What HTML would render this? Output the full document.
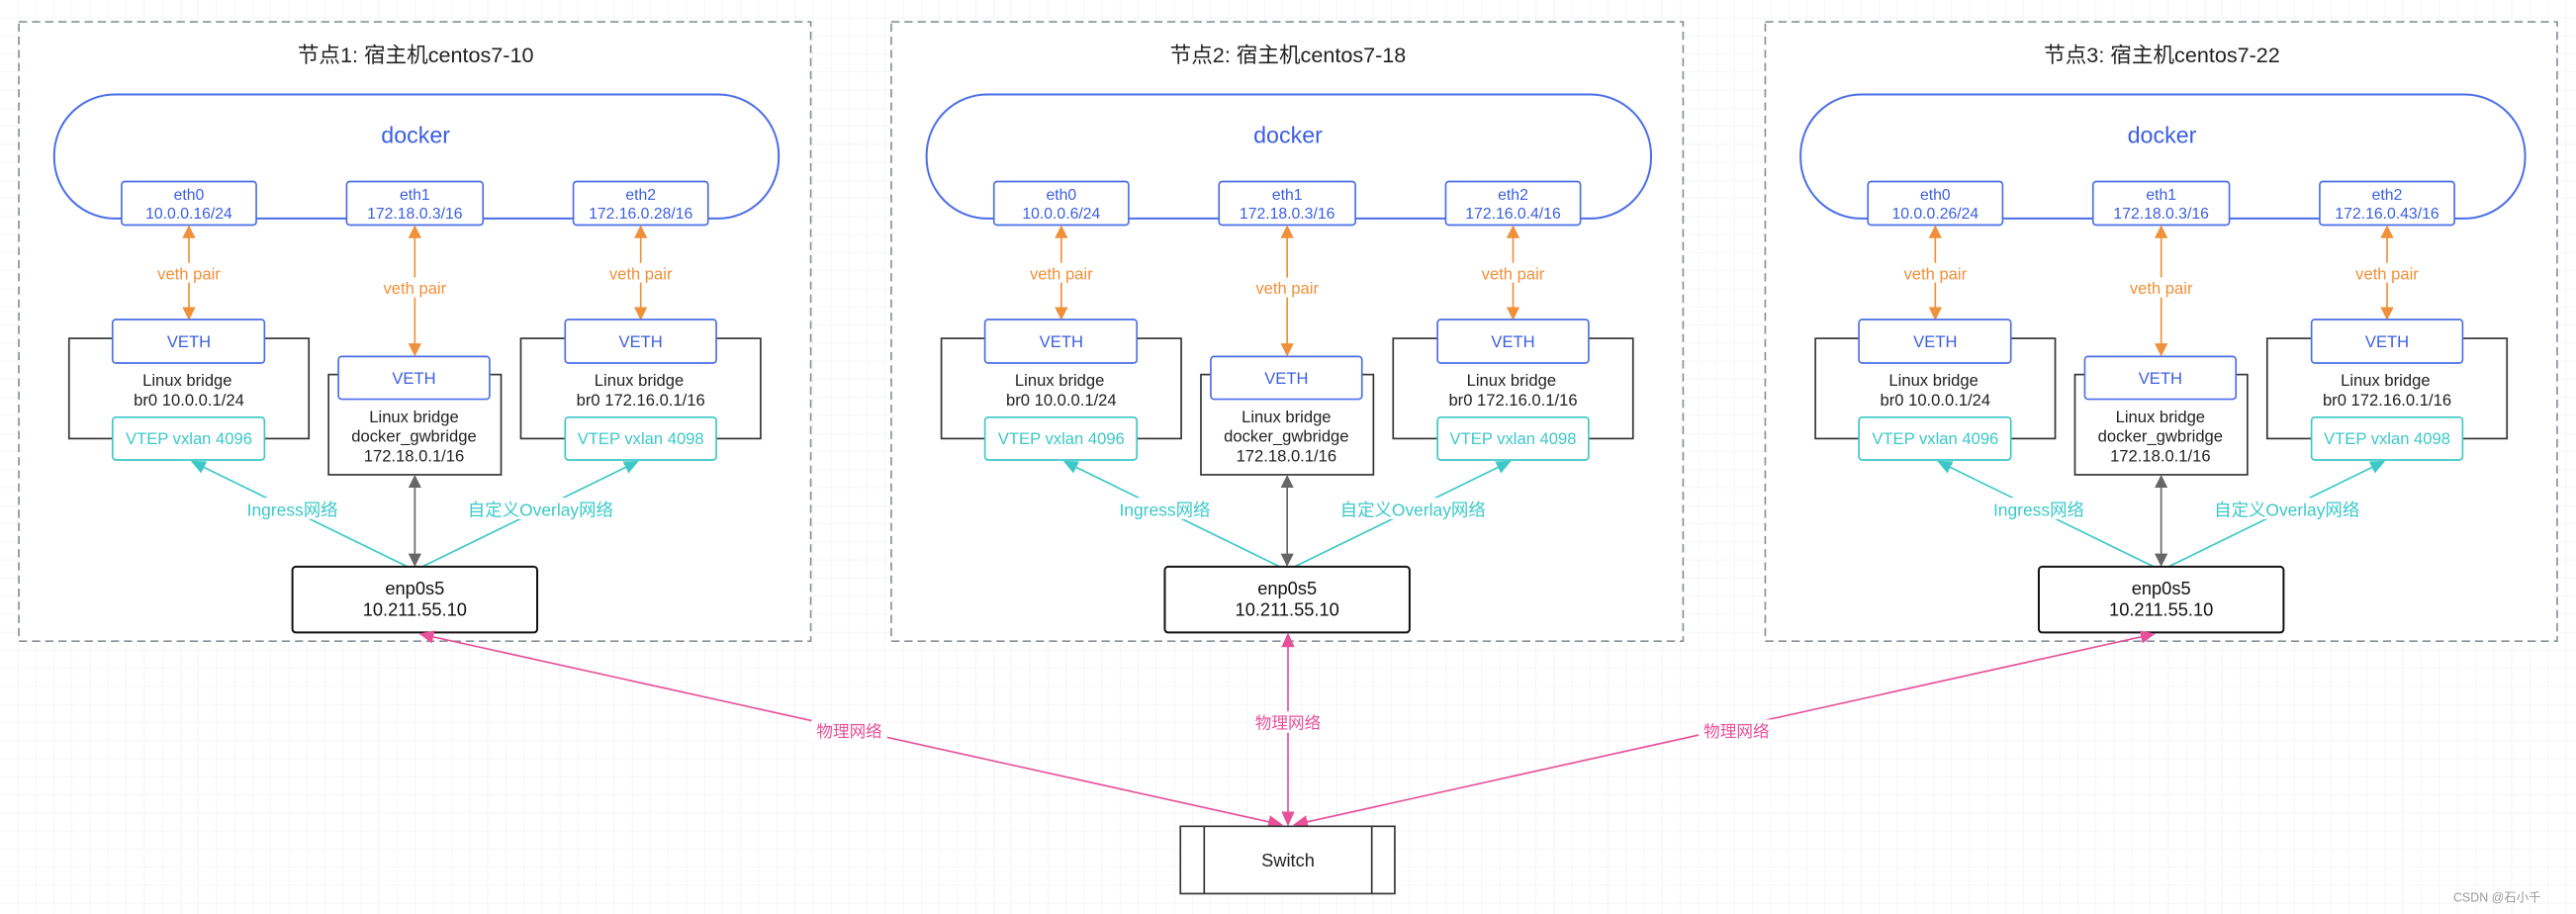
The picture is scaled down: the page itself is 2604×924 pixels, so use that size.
<!DOCTYPE html>
<html><head><meta charset="utf-8"><style>
html,body{margin:0;padding:0;background:#fff}
svg{display:block}
text{font-family:"Liberation Sans","Noto Sans CJK SC",sans-serif;text-anchor:middle}
</style></head><body>
<svg width="2604" height="924" viewBox="0 0 1568 556.4" preserveAspectRatio="none" xmlns="http://www.w3.org/2000/svg">
<defs>
<pattern id="g" width="11" height="11" patternUnits="userSpaceOnUse"><path d="M11 0V11M0 11H11" stroke="#eeeeee" stroke-width="0.6" fill="none"/></pattern>
<marker id="mo" markerWidth="8" markerHeight="8" refX="7" refY="4" orient="auto-start-reverse" markerUnits="userSpaceOnUse"><path d="M0,0L8,4L0,8z" fill="#f0903a"/></marker>
<marker id="mg" markerWidth="8" markerHeight="8" refX="7" refY="4" orient="auto-start-reverse" markerUnits="userSpaceOnUse"><path d="M0,0L8,4L0,8z" fill="#666"/></marker>
<marker id="mc" markerWidth="9" markerHeight="8" refX="8" refY="4" orient="auto" markerUnits="userSpaceOnUse"><path d="M0,0L9,4L0,8z" fill="#3cc8c8"/></marker>
<marker id="mp" markerWidth="9" markerHeight="8" refX="8" refY="4" orient="auto-start-reverse" markerUnits="userSpaceOnUse"><path d="M0,0L9,4L0,8z" fill="#e8509a"/></marker>
</defs>
<rect width="1568" height="556.4" fill="url(#g)"/>

<!-- NODE 1 -->
<g>
<rect x="11.5" y="13.3" width="482" height="377" fill="#fff" stroke="#8a909a" stroke-width="1" stroke-dasharray="5,3"/>
<text x="253" y="38" font-size="13" fill="#222">节点1: 宿主机centos7-10</text>
<path d="M70,57.5H437A37,37 0 0 1 474,94.5V96A37,37 0 0 1 437,133H70A37,37 0 0 1 33,96V94.5A37,37 0 0 1 70,57.5Z" fill="none" stroke="#4a6ee8" stroke-width="1.2"/>
<text x="253" y="87" font-size="14" fill="#3a5ee0">docker</text>
<g fill="#fff" stroke="#4a6ee8" stroke-width="1">
<rect x="74" y="110.5" width="82" height="26.5" rx="2"/><rect x="211" y="110.5" width="83" height="26.5" rx="2"/><rect x="349" y="110.5" width="82" height="26.5" rx="2"/></g>
<g font-size="9.5" fill="#3a5ee0"><text x="115" y="121.5">eth0</text><text x="115" y="133">10.0.0.16/24</text>
<text x="252.5" y="121.5">eth1</text><text x="252.5" y="133">172.18.0.3/16</text>
<text x="390" y="121.5">eth2</text><text x="390" y="133">172.16.0.28/16</text></g>
<g stroke="#f0903a" stroke-width="1" marker-start="url(#mo)" marker-end="url(#mo)" fill="none">
<path d="M115,138V194"/><path d="M252.5,138V216"/><path d="M390,138V194"/></g>
<g font-size="10" fill="#f0903a"><rect x="95" y="160" width="40" height="12" fill="#fff"/><text x="115" y="170">veth pair</text>
<rect x="232" y="169" width="41" height="12" fill="#fff"/><text x="252.5" y="179">veth pair</text>
<rect x="370" y="160" width="40" height="12" fill="#fff"/><text x="390" y="170">veth pair</text></g>
<g fill="#fff" stroke="#333" stroke-width="1"><rect x="42" y="206" width="146" height="61"/><rect x="200" y="228" width="105" height="61"/><rect x="317" y="206" width="146" height="61"/></g>
<g fill="#fff" stroke="#4a6ee8" stroke-width="1"><rect x="68.5" y="194.5" width="92.5" height="26.5" rx="2"/><rect x="206" y="217" width="92" height="26" rx="2"/><rect x="344" y="194.5" width="92" height="26.5" rx="2"/></g>
<g fill="#fff" stroke="#3cc8c8" stroke-width="1"><rect x="68.5" y="254" width="92.5" height="26" rx="2"/><rect x="344" y="254" width="92" height="26" rx="2"/></g>
<g font-size="10" fill="#3a5ee0"><text x="115" y="211.5">VETH</text><text x="252" y="233.5">VETH</text><text x="390" y="211.5">VETH</text></g>
<g font-size="10" fill="#3cc8c8"><text x="115" y="270.5">VTEP vxlan 4096</text><text x="390" y="270.5">VTEP vxlan 4098</text></g>
<g font-size="10" fill="#222"><text x="114" y="235">Linux bridge</text><text x="115" y="247">br0 10.0.0.1/24</text>
<text x="252" y="257">Linux bridge</text><text x="252" y="269">docker_gwbridge</text><text x="252" y="281">172.18.0.1/16</text>
<text x="389" y="235">Linux bridge</text><text x="390" y="247">br0 172.16.0.1/16</text></g>
<path d="M252.5,290V344" stroke="#666" stroke-width="1" marker-start="url(#mg)" marker-end="url(#mg)"/>
<g stroke="#3cc8c8" stroke-width="1" fill="none"><path d="M248,345L117,281" marker-end="url(#mc)" marker-start="url(#mc)"/><path d="M257,345L388,281" marker-end="url(#mc)" marker-start="url(#mc)"/></g>
<g font-size="10.5" fill="#3cc8c8"><rect x="148" y="303" width="60" height="13" fill="#fff"/><text x="178" y="314">Ingress网络</text>
<rect x="283" y="303" width="92" height="13" fill="#fff"/><text x="329" y="314">自定义Overlay网络</text></g>
<rect x="178" y="345" width="149" height="40" rx="2" fill="#fff" stroke="#111" stroke-width="1.2"/>
<g font-size="11" fill="#111"><text x="252.5" y="362">enp0s5</text><text x="252.5" y="375">10.211.55.10</text></g>
</g>

<!-- NODE 2 -->
<g transform="translate(531,0)">
<rect x="11.5" y="13.3" width="482" height="377" fill="#fff" stroke="#8a909a" stroke-width="1" stroke-dasharray="5,3"/>
<text x="253" y="38" font-size="13" fill="#222">节点2: 宿主机centos7-18</text>
<path d="M70,57.5H437A37,37 0 0 1 474,94.5V96A37,37 0 0 1 437,133H70A37,37 0 0 1 33,96V94.5A37,37 0 0 1 70,57.5Z" fill="none" stroke="#4a6ee8" stroke-width="1.2"/>
<text x="253" y="87" font-size="14" fill="#3a5ee0">docker</text>
<g fill="#fff" stroke="#4a6ee8" stroke-width="1">
<rect x="74" y="110.5" width="82" height="26.5" rx="2"/><rect x="211" y="110.5" width="83" height="26.5" rx="2"/><rect x="349" y="110.5" width="82" height="26.5" rx="2"/></g>
<g font-size="9.5" fill="#3a5ee0"><text x="115" y="121.5">eth0</text><text x="115" y="133">10.0.0.6/24</text>
<text x="252.5" y="121.5">eth1</text><text x="252.5" y="133">172.18.0.3/16</text>
<text x="390" y="121.5">eth2</text><text x="390" y="133">172.16.0.4/16</text></g>
<g stroke="#f0903a" stroke-width="1" marker-start="url(#mo)" marker-end="url(#mo)" fill="none">
<path d="M115,138V194"/><path d="M252.5,138V216"/><path d="M390,138V194"/></g>
<g font-size="10" fill="#f0903a"><rect x="95" y="160" width="40" height="12" fill="#fff"/><text x="115" y="170">veth pair</text>
<rect x="232" y="169" width="41" height="12" fill="#fff"/><text x="252.5" y="179">veth pair</text>
<rect x="370" y="160" width="40" height="12" fill="#fff"/><text x="390" y="170">veth pair</text></g>
<g fill="#fff" stroke="#333" stroke-width="1"><rect x="42" y="206" width="146" height="61"/><rect x="200" y="228" width="105" height="61"/><rect x="317" y="206" width="146" height="61"/></g>
<g fill="#fff" stroke="#4a6ee8" stroke-width="1"><rect x="68.5" y="194.5" width="92.5" height="26.5" rx="2"/><rect x="206" y="217" width="92" height="26" rx="2"/><rect x="344" y="194.5" width="92" height="26.5" rx="2"/></g>
<g fill="#fff" stroke="#3cc8c8" stroke-width="1"><rect x="68.5" y="254" width="92.5" height="26" rx="2"/><rect x="344" y="254" width="92" height="26" rx="2"/></g>
<g font-size="10" fill="#3a5ee0"><text x="115" y="211.5">VETH</text><text x="252" y="233.5">VETH</text><text x="390" y="211.5">VETH</text></g>
<g font-size="10" fill="#3cc8c8"><text x="115" y="270.5">VTEP vxlan 4096</text><text x="390" y="270.5">VTEP vxlan 4098</text></g>
<g font-size="10" fill="#222"><text x="114" y="235">Linux bridge</text><text x="115" y="247">br0 10.0.0.1/24</text>
<text x="252" y="257">Linux bridge</text><text x="252" y="269">docker_gwbridge</text><text x="252" y="281">172.18.0.1/16</text>
<text x="389" y="235">Linux bridge</text><text x="390" y="247">br0 172.16.0.1/16</text></g>
<path d="M252.5,290V344" stroke="#666" stroke-width="1" marker-start="url(#mg)" marker-end="url(#mg)"/>
<g stroke="#3cc8c8" stroke-width="1" fill="none"><path d="M248,345L117,281" marker-end="url(#mc)" marker-start="url(#mc)"/><path d="M257,345L388,281" marker-end="url(#mc)" marker-start="url(#mc)"/></g>
<g font-size="10.5" fill="#3cc8c8"><rect x="148" y="303" width="60" height="13" fill="#fff"/><text x="178" y="314">Ingress网络</text>
<rect x="283" y="303" width="92" height="13" fill="#fff"/><text x="329" y="314">自定义Overlay网络</text></g>
<rect x="178" y="345" width="149" height="40" rx="2" fill="#fff" stroke="#111" stroke-width="1.2"/>
<g font-size="11" fill="#111"><text x="252.5" y="362">enp0s5</text><text x="252.5" y="375">10.211.55.10</text></g>
</g>

<!-- NODE 3 -->
<g transform="translate(1063,0)">
<rect x="11.5" y="13.3" width="482" height="377" fill="#fff" stroke="#8a909a" stroke-width="1" stroke-dasharray="5,3"/>
<text x="253" y="38" font-size="13" fill="#222">节点3: 宿主机centos7-22</text>
<path d="M70,57.5H437A37,37 0 0 1 474,94.5V96A37,37 0 0 1 437,133H70A37,37 0 0 1 33,96V94.5A37,37 0 0 1 70,57.5Z" fill="none" stroke="#4a6ee8" stroke-width="1.2"/>
<text x="253" y="87" font-size="14" fill="#3a5ee0">docker</text>
<g fill="#fff" stroke="#4a6ee8" stroke-width="1">
<rect x="74" y="110.5" width="82" height="26.5" rx="2"/><rect x="211" y="110.5" width="83" height="26.5" rx="2"/><rect x="349" y="110.5" width="82" height="26.5" rx="2"/></g>
<g font-size="9.5" fill="#3a5ee0"><text x="115" y="121.5">eth0</text><text x="115" y="133">10.0.0.26/24</text>
<text x="252.5" y="121.5">eth1</text><text x="252.5" y="133">172.18.0.3/16</text>
<text x="390" y="121.5">eth2</text><text x="390" y="133">172.16.0.43/16</text></g>
<g stroke="#f0903a" stroke-width="1" marker-start="url(#mo)" marker-end="url(#mo)" fill="none">
<path d="M115,138V194"/><path d="M252.5,138V216"/><path d="M390,138V194"/></g>
<g font-size="10" fill="#f0903a"><rect x="95" y="160" width="40" height="12" fill="#fff"/><text x="115" y="170">veth pair</text>
<rect x="232" y="169" width="41" height="12" fill="#fff"/><text x="252.5" y="179">veth pair</text>
<rect x="370" y="160" width="40" height="12" fill="#fff"/><text x="390" y="170">veth pair</text></g>
<g fill="#fff" stroke="#333" stroke-width="1"><rect x="42" y="206" width="146" height="61"/><rect x="200" y="228" width="105" height="61"/><rect x="317" y="206" width="146" height="61"/></g>
<g fill="#fff" stroke="#4a6ee8" stroke-width="1"><rect x="68.5" y="194.5" width="92.5" height="26.5" rx="2"/><rect x="206" y="217" width="92" height="26" rx="2"/><rect x="344" y="194.5" width="92" height="26.5" rx="2"/></g>
<g fill="#fff" stroke="#3cc8c8" stroke-width="1"><rect x="68.5" y="254" width="92.5" height="26" rx="2"/><rect x="344" y="254" width="92" height="26" rx="2"/></g>
<g font-size="10" fill="#3a5ee0"><text x="115" y="211.5">VETH</text><text x="252" y="233.5">VETH</text><text x="390" y="211.5">VETH</text></g>
<g font-size="10" fill="#3cc8c8"><text x="115" y="270.5">VTEP vxlan 4096</text><text x="390" y="270.5">VTEP vxlan 4098</text></g>
<g font-size="10" fill="#222"><text x="114" y="235">Linux bridge</text><text x="115" y="247">br0 10.0.0.1/24</text>
<text x="252" y="257">Linux bridge</text><text x="252" y="269">docker_gwbridge</text><text x="252" y="281">172.18.0.1/16</text>
<text x="389" y="235">Linux bridge</text><text x="390" y="247">br0 172.16.0.1/16</text></g>
<path d="M252.5,290V344" stroke="#666" stroke-width="1" marker-start="url(#mg)" marker-end="url(#mg)"/>
<g stroke="#3cc8c8" stroke-width="1" fill="none"><path d="M248,345L117,281" marker-end="url(#mc)" marker-start="url(#mc)"/><path d="M257,345L388,281" marker-end="url(#mc)" marker-start="url(#mc)"/></g>
<g font-size="10.5" fill="#3cc8c8"><rect x="148" y="303" width="60" height="13" fill="#fff"/><text x="178" y="314">Ingress网络</text>
<rect x="283" y="303" width="92" height="13" fill="#fff"/><text x="329" y="314">自定义Overlay网络</text></g>
<rect x="178" y="345" width="149" height="40" rx="2" fill="#fff" stroke="#111" stroke-width="1.2"/>
<g font-size="11" fill="#111"><text x="252.5" y="362">enp0s5</text><text x="252.5" y="375">10.211.55.10</text></g>
</g>

<!-- physical -->
<g stroke="#e8509a" stroke-width="1" fill="none" marker-start="url(#mp)" marker-end="url(#mp)">
<path d="M256,386L780,502"/><path d="M784,386V502"/><path d="M1311,386L788,502"/></g>
<g font-size="10" fill="#e8509a"><rect x="494" y="438" width="46" height="13" fill="#fff"/><text x="517" y="448.5">物理网络</text>
<rect x="761" y="433" width="46" height="13" fill="#fff"/><text x="784" y="443.5">物理网络</text>
<rect x="1034" y="438" width="46" height="13" fill="#fff"/><text x="1057" y="448.5">物理网络</text></g>
<rect x="718.5" y="503" width="130.5" height="41" fill="#fff" stroke="#333" stroke-width="1"/>
<path d="M733,503V544M835,503V544" stroke="#333" stroke-width="1"/>
<text x="784" y="527.5" font-size="11" fill="#222">Switch</text>
<text x="1520" y="549" font-size="7.5" fill="#999">CSDN @石小千</text>
</svg>
</body></html>
